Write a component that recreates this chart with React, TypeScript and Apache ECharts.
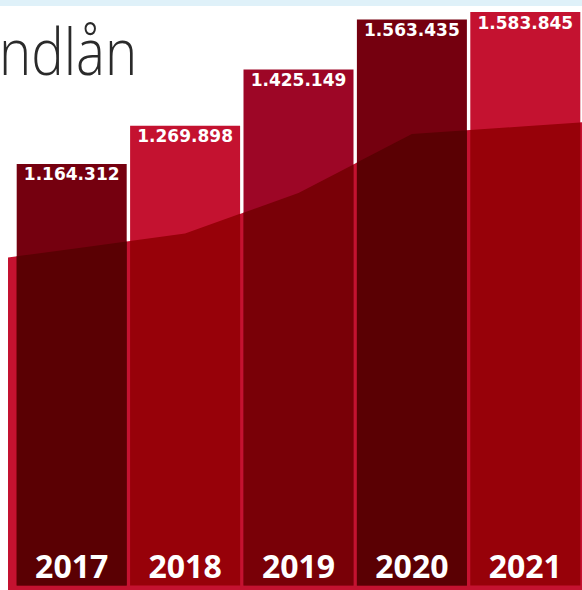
import React, { useEffect, useRef } from "react";
import * as echarts from "echarts";

// Data
const years = ["2017", "2018", "2019", "2020", "2021"];
const loanValues = [1164312, 1269898, 1425149, 1563435, 1583845];
const yearPositions = [0, 1, 2, 3, 4];
// background area (positions in category units, values on the same scale)
const areaPositions = [-0.5617, 0, 1, 2, 3, 4, 4.5];
const areaValues = [905800, 929600, 972100, 1084000, 1246900, 1268400, 1279200];
const titleText = "ndlån";

// Styles
const barColors = ["#75000f", "#c41230", "#9d0626", "#75000f", "#c41230"];
const areaColor = "#c41230";
const BAR_WIDTH = 110;

function hexToRgb(h: string) {
  const n = parseInt(h.slice(1), 16);
  return [(n >> 16) & 255, (n >> 8) & 255, n & 255];
}
function multiply(a: string, b: string) {
  const x = hexToRgb(a);
  const y = hexToRgb(b);
  const r = x.map((c, i) => Math.round((c * y[i]) / 255));
  return `rgb(${r[0]},${r[1]},${r[2]})`;
}
function fmt(v: number) {
  return String(v).replace(/\B(?=(\d{3})+(?!\d))/g, ".");
}

export default function App() {
  const ref = useRef<HTMLDivElement>(null);
  useEffect(() => {
    if (!ref.current) return;
    const chart = echarts.init(ref.current, undefined, { renderer: "svg" });
    const option: any = {
      animation: false,
      backgroundColor: "#ffffff",
      grid: { left: 8, width: 574, top: 0, bottom: 0, containLabel: false },
      xAxis: {
        type: "value",
        min: -0.5617,
        max: 4.5,
        z: 10,
        axisLine: { show: false },
        axisTick: { show: false },
        splitLine: { show: false },
        axisLabel: {
          customValues: yearPositions,
          formatter: (v: number) => years[Math.round(v)],
          inside: true,
          margin: 9,
          color: "#ffffff",
          fontSize: 32,
          fontWeight: "bold",
          fontFamily: "Open Sans",
        },
      },
      yAxis: { type: "value", min: -12400, max: 1617000, show: false },
      graphic: [
        {
          type: "rect",
          shape: { x: 0, y: 0, width: 582, height: 6 },
          style: { fill: "#dff1f9" },
          z: 20,
        },
        {
          type: "text",
          x: -1,
          y: 50,
          scaleX: 0.84,
          z: 20,
          style: {
            text: titleText,
            fill: "#2a2a2a",
            font: "300 65px 'Open Sans'",
            verticalAlign: "middle",
          },
        },
      ],
      series: [
        {
          type: "line",
          data: areaPositions.map((p, k) => [p, areaValues[k]]),
          symbol: "none",
          clip: false,
          lineStyle: { width: 0 },
          areaStyle: { color: areaColor, opacity: 1, origin: "start" },
          z: 1,
          silent: true,
        },
        {
          type: "bar",
          barWidth: BAR_WIDTH,
          z: 2,
          data: loanValues.map((v, i) => ({
            value: [yearPositions[i], v],
            itemStyle: { color: barColors[i] },
          })),
          label: {
            show: true,
            position: "insideTop",
            distance: 2,
            color: "#ffffff",
            fontFamily: "DejaVu Sans",
            fontWeight: "bold",
            fontSize: 17,
            formatter: (p: any) => fmt(p.value[1]),
          },
        },
        {
          type: "custom",
          coordinateSystem: "cartesian2d",
          z: 3,
          silent: true,
          data: loanValues.map((v, i) => [yearPositions[i], v]),
          encode: { x: 0, y: 1 },
          renderItem: (params: any, api: any) => {
            const i = params.dataIndex;
            const top = api.coord([api.value(0), api.value(1)]);
            const base = api.coord([api.value(0), 0]);
            const half = BAR_WIDTH / 2;
            const x0 = top[0] - half;
            const x1 = top[0] + half;
            const line = areaPositions.map((p, k) => api.coord([p, areaValues[k]]));
            const yAt = (x: number) => {
              for (let k = 0; k < line.length - 1; k++) {
                const a = line[k];
                const b = line[k + 1];
                if (x >= a[0] && x <= b[0]) {
                  const t = (x - a[0]) / (b[0] - a[0]);
                  return a[1] + t * (b[1] - a[1]);
                }
              }
              return line[line.length - 1][1];
            };
            const pts: number[][] = [[x0, Math.max(yAt(x0), top[1])]];
            line.forEach((pt) => {
              if (pt[0] > x0 && pt[0] < x1) pts.push([pt[0], Math.max(pt[1], top[1])]);
            });
            pts.push([x1, Math.max(yAt(x1), top[1])], [x1, base[1]], [x0, base[1]]);
            return {
              type: "polygon",
              shape: { points: pts },
              style: { fill: multiply(barColors[i], areaColor) },
            };
          },
        },
      ],
    };
    chart.setOption(option);
    return () => chart.dispose();
  }, []);
  return (
    <div
      ref={ref}
      style={{ position: "fixed", left: 0, top: 0, width: 582, height: 590 }}
    />
  );
}
